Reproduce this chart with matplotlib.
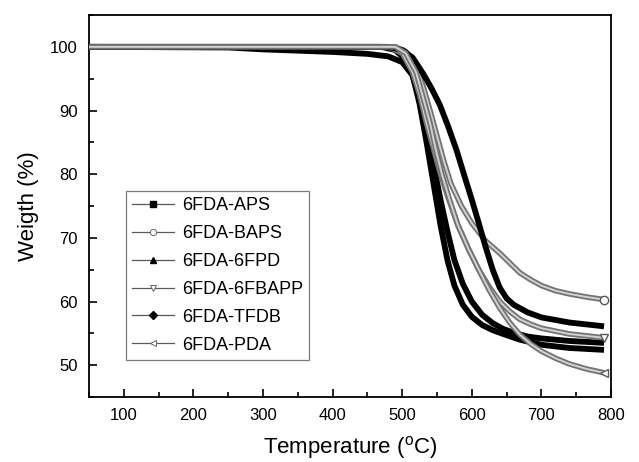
import matplotlib.pyplot as plt
from matplotlib.lines import Line2D
from matplotlib.ticker import MultipleLocator

plt.rcParams['font.family'] = ['Liberation Sans', 'DejaVu Sans']
plt.rcParams['mathtext.fontset'] = 'custom'
plt.rcParams['mathtext.rm'] = 'Liberation Sans'

# TGA readings (temperature in C, weight in %)
names = ["6FDA-APS", "6FDA-BAPS", "6FDA-6FPD", "6FDA-6FBAPP", "6FDA-TFDB", "6FDA-PDA"]
markers = ["s", "o", "^", "v", "D", "<"]
filled = [True, False, True, False, True, False]

t_aps = [50, 250, 300, 350, 400, 450, 480, 500, 515, 525, 535, 545, 555, 565, 575, 587,
         600, 615, 630, 645, 660, 680, 700, 740, 790]
w_aps = [100, 99.9, 99.6, 99.4, 99.2, 98.9, 98.5, 97.6, 95.5, 92.0, 87.0, 81.5, 76.0, 71.0,
         66.5, 62.8, 60.0, 57.9, 56.6, 55.7, 55.1, 54.5, 54.2, 53.8, 53.5]

t_baps = [50, 490, 505, 520, 530, 540, 550, 560, 570, 585, 600, 620, 640, 655, 669, 685,
          700, 720, 740, 765, 790]
w_baps = [100, 100, 99.3, 97.0, 93.8, 90.0, 86.0, 82.0, 78.5, 75.0, 72.3, 69.5, 67.6, 66.0,
          64.5, 63.4, 62.5, 61.7, 61.2, 60.7, 60.3]

t_6fpd = [50, 470, 490, 505, 515, 525, 535, 545, 555, 565, 575, 587, 600, 615, 630, 645,
          669, 700, 740, 790]
w_6fpd = [100, 100, 99.5, 98.0, 95.5, 91.0, 85.0, 78.5, 72.0, 66.5, 62.5, 59.5, 57.6, 56.3,
          55.5, 54.9, 54.0, 53.2, 52.7, 52.4]

t_6fbapp = [50, 480, 500, 515, 525, 535, 545, 555, 567, 580, 595, 610, 625, 640, 655, 669,
            685, 700, 740, 790]
w_6fbapp = [100, 100, 99.0, 96.0, 92.5, 88.0, 84.0, 80.0, 76.0, 72.0, 68.3, 65.0, 62.3, 60.0,
            58.4, 57.2, 56.4, 55.8, 54.9, 54.3]

t_tfdb = [50, 480, 500, 515, 530, 542, 554, 566, 578, 590, 600, 610, 620, 630, 640, 650,
          660, 680, 700, 740, 790]
w_tfdb = [100, 100, 99.5, 98.3, 95.8, 93.5, 90.9, 87.5, 83.8, 79.5, 76.0, 72.3, 68.5, 65.0,
          62.2, 60.5, 59.5, 58.3, 57.5, 56.7, 56.1]

t_pda = [50, 490, 505, 520, 530, 540, 548, 557, 568, 580, 595, 610, 625, 640, 655, 669,
         685, 700, 720, 740, 765, 790]
w_pda = [100, 100, 99.0, 96.0, 92.0, 88.0, 84.0, 80.0, 76.0, 72.0, 68.3, 65.0, 61.8, 59.0,
         56.6, 54.8, 53.3, 52.2, 51.1, 50.2, 49.4, 48.8]

temps = [t_aps, t_baps, t_6fpd, t_6fbapp, t_tfdb, t_pda]
weights = [w_aps, w_baps, w_6fpd, w_6fbapp, w_tfdb, w_pda]

fig = plt.figure(figsize=(6.39, 4.62), dpi=100)
ax = fig.add_axes([0.1393, 0.1407, 0.8169, 0.8268])

# dense markers in the original look like thick bands
for i in range(len(names)):
    t, w = temps[i], weights[i]
    if filled[i]:
        ax.plot(t, w, color="black", lw=4.2, solid_capstyle="butt", zorder=3)
    else:
        ax.plot(t, w, color="0.45", lw=4.0, solid_capstyle="butt", zorder=3)
        ax.plot(t, w, color="0.82", lw=1.4, zorder=3)
        ax.plot(t[-1], w[-1], marker=markers[i], ms=6, mfc="white", mec="0.35", zorder=4)

ax.set_xlim(50, 800)
ax.set_ylim(45, 105)
ax.xaxis.set_major_locator(MultipleLocator(100))
ax.xaxis.set_minor_locator(MultipleLocator(50))
ax.yaxis.set_minor_locator(MultipleLocator(5))
ax.set_yticks([50, 60, 70, 80, 90, 100])
ax.tick_params(which="both", direction="in", top=False, right=False, labelsize=12, width=1.2)
ax.tick_params(which="major", length=6, pad=8)
ax.tick_params(which="minor", length=3.5)
for s in ax.spines.values():
    s.set_linewidth(1.3)

ax.set_xlabel(r"Temperature ($\mathregular{^o}$C)", fontsize=16, labelpad=8)
ax.set_ylabel("Weigth (%)", fontsize=16, labelpad=8)

handles = []
for i in range(len(names)):
    if filled[i]:
        h = Line2D([], [], color="0.35", lw=0.9, marker=markers[i], ms=4, mfc="black", mec="black")
    else:
        h = Line2D([], [], color="0.35", lw=0.9, marker=markers[i], ms=4.5, mfc="white", mec="0.4", mew=0.7)
    handles.append(h)

leg = ax.legend(handles, names, loc="lower left", bbox_to_anchor=(0.071, 0.097),
                fontsize=13, frameon=True, fancybox=False, handlelength=2.3,
                handletextpad=0.45, labelspacing=0.6, borderpad=0.35, borderaxespad=0)
leg.get_frame().set_edgecolor("0.35")
leg.get_frame().set_linewidth(0.9)

fig.savefig("out.png", dpi=100)
